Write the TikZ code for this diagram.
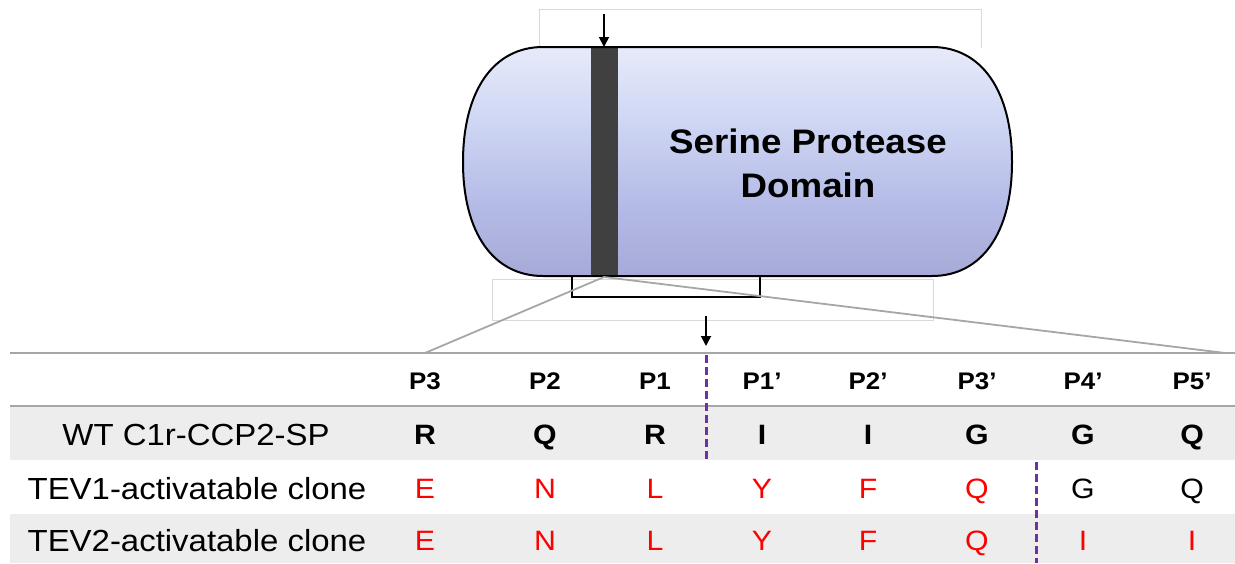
\documentclass[tikz,border=0pt]{standalone}
\usepackage{fontspec}
\setmainfont{Liberation Sans}[FakeStretch=1.08]
\usetikzlibrary{arrows.meta}
\definecolor{rowgrey}{HTML}{EDEDED}
\definecolor{lineg}{HTML}{A6A6A6}
\definecolor{faint}{HTML}{D9D9D9}
\definecolor{purp}{HTML}{7030A0}
\definecolor{barc}{HTML}{404040}
\definecolor{redt}{HTML}{FF0000}
\definecolor{sa}{HTML}{9896BE}
\definecolor{sb}{HTML}{A2A4D2}
\definecolor{sc}{HTML}{B4BAE6}
\definecolor{sd}{HTML}{D0D8F4}
\definecolor{se}{HTML}{EEF0FB}
\definecolor{sf}{HTML}{F8F8FD}
\pgfdeclareverticalshading{capsshade}{100bp}{color(0bp)=(sa); color(8bp)=(sa); color(20bp)=(sb); color(40bp)=(sc); color(60bp)=(sd); color(80bp)=(se); color(100bp)=(sf)}
\tikzset{
  hdr/.style={font=\fontsize{24}{28}\selectfont\bfseries, text height=17pt, text depth=0pt, inner sep=0pt},
  lbl/.style={font=\fontsize{30.5}{36}\selectfont, text height=22pt, text depth=0pt, inner sep=0pt},
  wt/.style={font=\fontsize{28}{34}\selectfont\bfseries, text height=20pt, text depth=0pt, inner sep=0pt},
  mut/.style={font=\fontsize{28}{34}\selectfont, text height=20pt, text depth=0pt, inner sep=0pt, text=redt},
  keep/.style={font=\fontsize{28}{34}\selectfont, text height=20pt, text depth=0pt, inner sep=0pt, text=black},
  title/.style={font=\fontsize{34}{42}\selectfont\bfseries, text height=24.5pt, text depth=0pt, inner sep=0pt},
  cut/.style={draw=purp, line width=3pt, dash pattern=on 8pt off 4pt},
  arr/.style={-{Triangle[length=10pt,width=10pt]}, line width=1.8pt},
  zoomline/.style={draw=lineg, line width=1.8pt},
  faintbox/.style={draw=faint, line width=1pt},
  rule/.style={draw=lineg, line width=2.5pt}
}
\begin{document}
\begin{tikzpicture}[x=1pt,y=-1pt]
\useasboundingbox (0,0) rectangle (1235,563);
% faint boxes
\draw[faintbox] (539,48) -- (539,9) -- (981,9) -- (981,48);
\draw[faintbox] (492,279) rectangle (933,320);
% row backgrounds
\fill[rowgrey] (10,406) rectangle (1235,460);
\fill[rowgrey] (10,514) rectangle (1235,563);
% capsule
\def\capsule{(543,47) .. controls (493.4,47) and (463,91) .. (463,162)
  .. controls (463,233) and (493.4,276) .. (543,276) -- (932,276)
  .. controls (981.6,276) and (1012,233) .. (1012,162)
  .. controls (1012,91) and (981.6,47) .. (932,47) -- cycle}
\shade[shading=capsshade] \capsule;
\fill[barc] (591,47) rectangle (618,276);
\draw[line width=2pt] \capsule;
\node[title] (sp1) at (808,141) {Serine Protease};
\node[title] (sp2) at (808,185) {Domain};
% bracket
\coordinate (bl) at (572,276);
\coordinate (br) at (760,276);
\draw[line width=2pt] (bl) -- (572,297) -- (760,297) -- (br);
% zoom lines
\coordinate (zc) at (604,277);
\coordinate (zl) at (425,353);
\coordinate (zr) at (1225,353);
\draw[zoomline] (zl) -- (zc) -- (zr);
% arrows
\coordinate (a1s) at (604,14);
\coordinate (a1e) at (604,47);
\draw[arr] (a1s) -- (a1e);
\coordinate (a2s) at (706,316);
\coordinate (a2e) at (706,346);
\draw[arr] (a2s) -- (a2e);
% rules
\draw[rule] (10,353) -- (1235,353);
\draw[rule] (10,406) -- (1235,406);
% header
\node[hdr] (h1) at (425,381) {P3};
\node[hdr] (h2) at (545,381) {P2};
\node[hdr] (h3) at (655,381) {P1};
\node[hdr] (h4) at (762,381) {P1’};
\node[hdr] (h5) at (868,381) {P2’};
\node[hdr] (h6) at (977,381) {P3’};
\node[hdr] (h7) at (1083,381) {P4’};
\node[hdr] (h8) at (1192,381) {P5’};
% row 1
\node[lbl] (l1) at (196,434) {WT C1r-CCP2-SP};
\node[wt] (r11) at (425,434) {R};
\node[wt] (r12) at (545,434) {Q};
\node[wt] (r13) at (655,434) {R};
\node[wt] (r14) at (762,434) {I};
\node[wt] (r15) at (868,434) {I};
\node[wt] (r16) at (977,434) {G};
\node[wt] (r17) at (1083,434) {G};
\node[wt] (r18) at (1192,434) {Q};
% row 2
\node[lbl] (l2) at (197,488) {TEV1-activatable clone};
\node[mut] (r21) at (425,488) {E};
\node[mut] (r22) at (545,488) {N};
\node[mut] (r23) at (655,488) {L};
\node[mut] (r24) at (762,488) {Y};
\node[mut] (r25) at (868,488) {F};
\node[mut] (r26) at (977,488) {Q};
\node[keep] (r27) at (1083,488) {G};
\node[keep] (r28) at (1192,488) {Q};
% row 3
\node[lbl] (l3) at (197,540) {TEV2-activatable clone};
\node[mut] (r31) at (425,540) {E};
\node[mut] (r32) at (545,540) {N};
\node[mut] (r33) at (655,540) {L};
\node[mut] (r34) at (762,540) {Y};
\node[mut] (r35) at (868,540) {F};
\node[mut] (r36) at (977,540) {Q};
\node[mut] (r37) at (1083,540) {I};
\node[mut] (r38) at (1192,540) {I};
% cut sites
\coordinate (c1t) at (706,355);
\coordinate (c1b) at (706,460);
\draw[cut] (c1t) -- (c1b);
\coordinate (c2t) at (1036,462);
\coordinate (c2b) at (1036,563);
\draw[cut] (c2t) -- (c2b);
\end{tikzpicture}
\end{document}
